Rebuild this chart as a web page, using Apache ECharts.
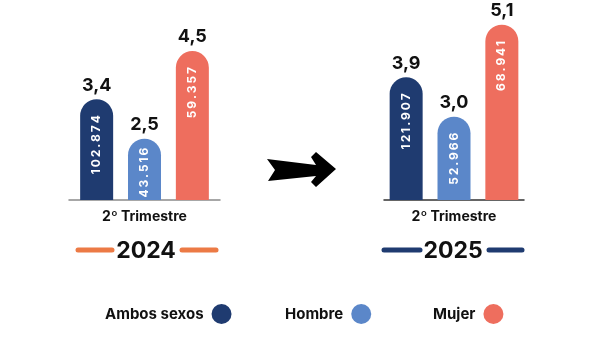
<!DOCTYPE html>
<html>
<head>
<meta charset="utf-8">
<script src="https://cdn.jsdelivr.net/npm/echarts@6/dist/echarts.min.js"></script>
<style>
  html, body { margin: 0; padding: 0; background: #ffffff; }
  #chart { width: 600px; height: 338px; }
</style>
</head>
<body>
<div id="chart"></div>
<script>
// Tasa por grupo (valor sobre la barra) y personas (texto dentro de la barra)
const categories = ['2º Trimestre'];
const years = ['2024', '2025'];
const groups = ['Ambos sexos', 'Hombre', 'Mujer'];
const rate2024 = [3.4, 2.5, 4.5];
const rate2025 = [3.9, 3.0, 5.1];
const people2024 = [102874, 43516, 59357];
const people2025 = [121907, 52966, 68941];

const FONT = 'Inter';
const groupColors = ['#1F3B70', '#5B87C9', '#EE6E5E'];
const rates = [rate2024, rate2025];
const people = [people2024, people2025];

function thousands(n) {
  return String(n).replace(/\B(?=(\d{3})+(?!\d))/g, '.');
}
function spaced(s) {
  return s.split('').join('\u2009');
}

const series = [];
groups.forEach((g, i) => {
  [0, 1].forEach(y => {
    series.push({
      type: 'bar',
      name: g,
      xAxisIndex: y,
      yAxisIndex: y,
      data: [rates[y][i]],
      barWidth: 33,
      barGap: '45%',
      itemStyle: { color: groupColors[i], borderRadius: [16.5, 16.5, 0, 0] },
      label: {
        show: true,
        position: 'top',
        distance: 5,
        formatter: p => p.value.toFixed(1).replace('.', ','),
        fontFamily: FONT,
        fontSize: 18,
        fontWeight: 'bold',
        color: '#111'
      },
      silent: true
    });
    // transparent twin bar carrying the people count inside the bar
    series.push({
      type: 'bar',
      name: g + ' personas',
      xAxisIndex: y + 2,
      yAxisIndex: y,
      data: [rates[y][i]],
      barWidth: 33,
      barGap: '45%',
      itemStyle: { color: 'rgba(0,0,0,0)' },
      label: {
        show: true,
        position: 'insideTop',
        distance: (y === 0 && i === 1) ? 9 : 16,
        rotate: 90,
        align: 'right',
        verticalAlign: 'middle',
        formatter: () => spaced(thousands(people[y][i])),
        fontFamily: FONT,
        fontSize: 12,
        fontWeight: 'bold',
        color: '#ffffff'
      },
      silent: true
    });
  });
});

function visibleX(grid, lineColor) {
  return {
    type: 'category', gridIndex: grid, data: categories,
    axisLine: { lineStyle: { color: lineColor, width: 1.5 } },
    axisTick: { show: false },
    axisLabel: { fontFamily: FONT, fontSize: 14, fontWeight: 'bold', color: '#111', margin: 10 }
  };
}
function hiddenX(grid) {
  return { type: 'category', gridIndex: grid, data: categories, show: false };
}
function yAx(grid) {
  return { type: 'value', gridIndex: grid, min: 1.1, max: 5.3, show: false, splitLine: { show: false } };
}

function legendFor(name, left) {
  return {
    data: [name], left: left, top: 304, padding: 0,
    align: 'right', icon: 'circle', itemWidth: 20, itemHeight: 20,
    selectedMode: false,
    textStyle: { fontFamily: FONT, fontSize: 15, fontWeight: 'bold', color: '#111', padding: [0, 3, 0, 0] }
  };
}

const yearLineColors = ['#EC7A45', '#1F3B70'];
const yearCenters = [146, 453];
const yearLines = [[[78, 112], [182, 216]], [[384, 420], [489, 522]]];
const graphic = [];
years.forEach((yr, k) => {
  graphic.push({
    type: 'text', x: yearCenters[k], y: 251,
    style: { text: yr, fill: '#111', font: 'bold 23px ' + FONT, textAlign: 'center', textVerticalAlign: 'middle' }
  });
  yearLines[k].forEach(([a, b]) => {
    graphic.push({
      type: 'line', shape: { x1: a, y1: 250, x2: b, y2: 250 },
      style: { stroke: yearLineColors[k], lineWidth: 5, lineCap: 'round' }
    });
  });
});
// arrow between the two periods
graphic.push({
  type: 'polygon',
  shape: { points: [[267, 159], [316, 165], [311, 157], [316, 152], [336, 169], [316, 187], [311, 182], [316, 176], [268, 181], [275, 170]] },
  style: { fill: '#000' }
});

const chart = echarts.init(document.getElementById('chart'), null, { renderer: 'canvas' });
chart.setOption({
  animation: false,
  backgroundColor: '#ffffff',
  grid: [
    { left: 69, width: 151, top: 16, height: 184 },
    { left: 384, width: 140, top: 16, height: 184 }
  ],
  xAxis: [visibleX(0, '#8a8a8a'), visibleX(1, '#333333'), hiddenX(0), hiddenX(1)],
  yAxis: [yAx(0), yAx(1)],
  legend: [legendFor('Ambos sexos', 105), legendFor('Hombre', 285), legendFor('Mujer', 433)],
  graphic: graphic,
  series: series
});
</script>
</body>
</html>
